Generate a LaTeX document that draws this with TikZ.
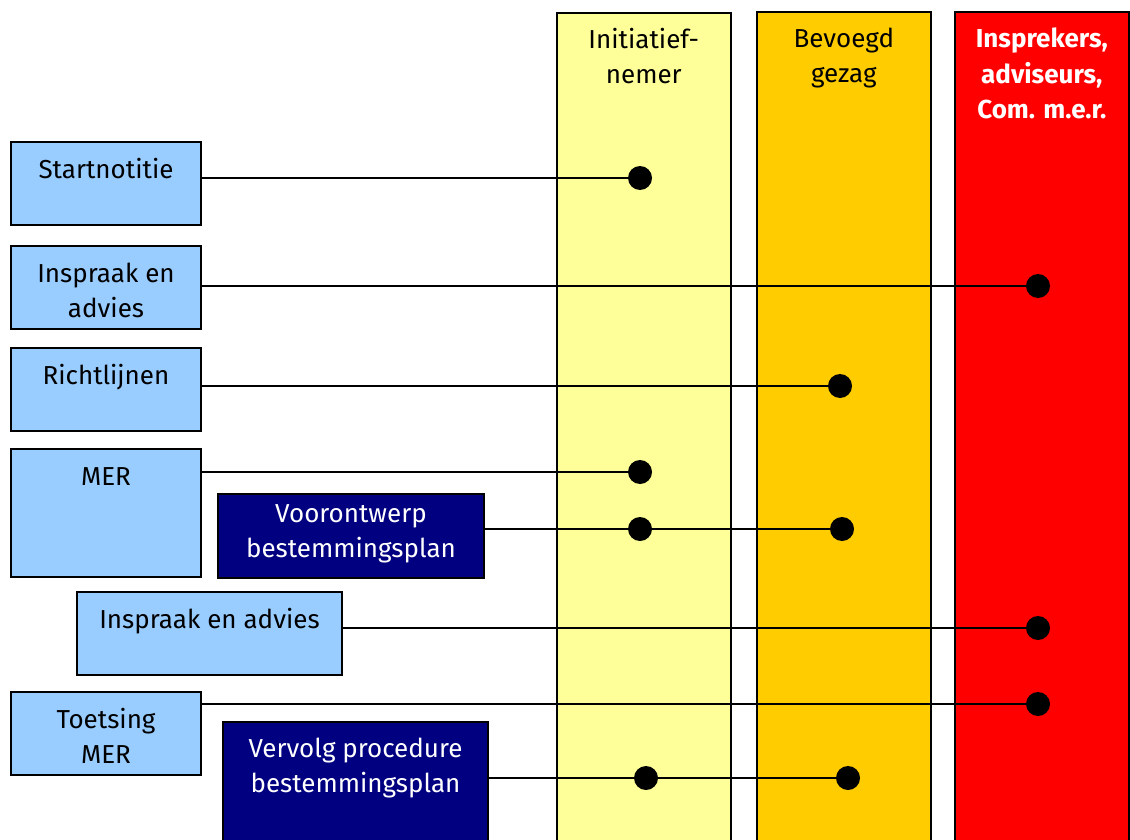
\documentclass[tikz,border=0pt]{standalone}
\usepackage{fontspec}
\setmainfont{Fira Sans}
\newlength\px
\setlength\px{0.5pt}
\definecolor{lichtblauw}{HTML}{99CCFF}
\definecolor{donkerblauw}{HTML}{000080}
\definecolor{geel}{HTML}{FFFF99}
\definecolor{oranje}{HTML}{FFCC00}
\definecolor{rood}{HTML}{FF0000}

\begin{document}
\begin{tikzpicture}[
        x=0.5pt, y=-0.5pt,
        every node/.style={font=\fontsize{13}{17.5}\selectfont},
        kolom/.style={draw, line width=0.8pt, anchor=north west, inner sep=0pt,
            minimum width=174\px, minimum height=835\px},
        stap/.style={draw, line width=1pt, fill=lichtblauw, anchor=north west, inner sep=0pt},
        plan/.style={stap, fill=donkerblauw},
        tekst/.style={anchor=base, yshift=-37\px, align=center, inner sep=0pt},
        tweeregels/.style={yshift=-35\px},
        drieregels/.style={yshift=-71\px},
        stip/.style={circle, fill=black, inner sep=0pt, minimum size=24\px},
        lijn/.style={line width=1pt}
    ]
        \useasboundingbox (0,0) rectangle (1130,840);

        % --- KOLOMMEN ---
        \node[kolom, fill=geel, label={[tekst, tweeregels]north:Initiatief-\\nemer}] (initiatiefnemer) at (556,12) {};
        \node[kolom, fill=oranje, label={[tekst, tweeregels]north:Bevoegd\\gezag}] (gezag) at (756,11) {};
        \node[kolom, fill=rood, label={[tekst, drieregels, text=white, font=\fontsize{13}{17.75}\selectfont\bfseries]north:Insprekers,\\adviseurs,\\Com. m.e.r.}] (insprekers) at (954,11) {};

        % --- STAPPEN ---
        \node[stap, minimum width=190\px, minimum height=83\px, label={[tekst]north:Startnotitie}] (startnotitie) at (10,141) {};
        \node[stap, minimum width=190\px, minimum height=83\px, label={[tekst, tweeregels]north:Inspraak en\\advies}] (inspraak) at (10,245) {};
        \node[stap, minimum width=190\px, minimum height=83\px, label={[tekst]north:Richtlijnen}] (richtlijnen) at (10,347) {};
        \node[stap, minimum width=190\px, minimum height=128\px, label={[tekst]north:MER}] (mer) at (10,448) {};
        \node[plan, minimum width=266\px, minimum height=84\px, label={[tekst, tweeregels, yshift=8\px, text=white]north:Voorontwerp\\bestemmingsplan}] (voorontwerp) at (217,493) {};
        \node[stap, minimum width=265\px, minimum height=83\px, label={[tekst]north:Inspraak en advies}] (inspraak2) at (76,591) {};
        \node[stap, minimum width=190\px, minimum height=83\px, label={[tekst, tweeregels]north:Toetsing\\MER}] (toetsing) at (10,691) {};
        \node[plan, minimum width=265\px, minimum height=130\px, label={[tekst, tweeregels, yshift=1\px, text=white]north:Vervolg procedure\\bestemmingsplan}] (vervolg) at (222,721) {};

        % --- STIPPEN ---
        \node[stip] (s1) at (640,178) {};
        \node[stip] (s2) at (1038,286) {};
        \node[stip] (s3) at (840,386) {};
        \node[stip] (s4) at (640,472) {};
        \node[stip] (s5) at (640,529) {};
        \node[stip] (s6) at (842,529) {};
        \node[stip] (s7) at (1038,628) {};
        \node[stip] (s8) at (1038,704) {};
        \node[stip] (s9) at (646,778) {};
        \node[stip] (s10) at (848,778) {};

        % --- LIJNEN ---
        \draw[lijn] (startnotitie.east |- s1) -- (s1);
        \draw[lijn] (inspraak.east |- s2) -- (s2);
        \draw[lijn] (richtlijnen.east |- s3) -- (s3);
        \draw[lijn] (mer.east |- s4) -- (s4);
        \draw[lijn] (voorontwerp.east |- s5) -- (s5) -- (s6);
        \draw[lijn] (inspraak2.east |- s7) -- (s7);
        \draw[lijn] (toetsing.east |- s8) -- (s8);
        \draw[lijn] (vervolg.east |- s9) -- (s9) -- (s10);
    \end{tikzpicture}
\end{document}
